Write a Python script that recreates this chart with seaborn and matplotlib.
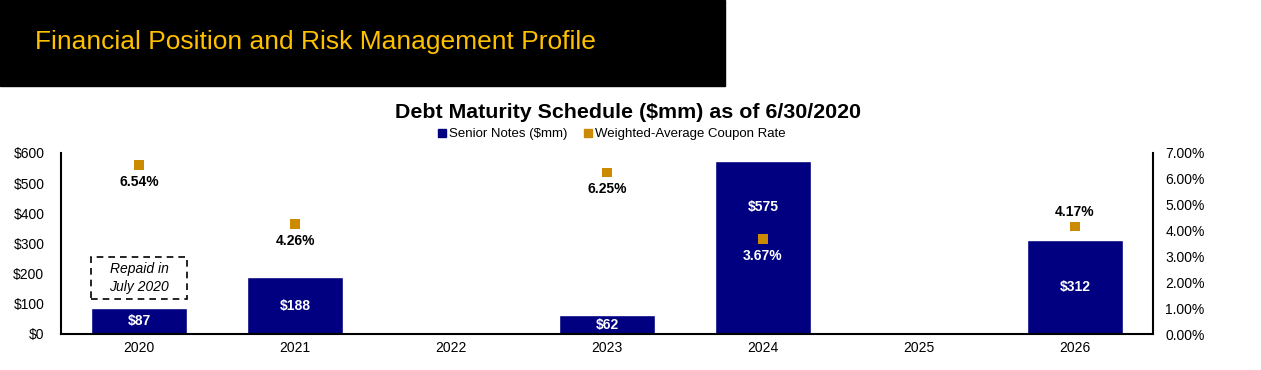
import numpy as np
import pandas as pd
import seaborn as sns
import matplotlib.pyplot as plt
from matplotlib.patches import Rectangle
from matplotlib.lines import Line2D
from matplotlib.ticker import PercentFormatter, FuncFormatter

# datos
years = ['2020', '2021', '2022', '2023', '2024', '2025', '2026']
notes = [87, 188, 0, 62, 575, 0, 312]
coupon = [6.54, 4.26, np.nan, 6.25, 3.67, np.nan, 4.17]

navy = '#000080'
gold = '#CC8A00'

sns.set_theme(style='white')
plt.rcParams['font.family'] = ['Liberation Sans', 'DejaVu Sans']
plt.rcParams['text.color'] = 'black'

df = pd.DataFrame({'year': years, 'notes': notes, 'coupon': coupon})
df['pos'] = np.arange(len(years))

fig = plt.figure(figsize=(12.61, 3.70), dpi=100)
ax = fig.add_axes([61 / 1261, 36 / 370, 1092 / 1261, 181 / 370])

sns.barplot(data=df, x='year', y='notes', color=navy, width=0.62,
            saturation=1, ax=ax)
ax.set_xlim(-0.5, 6.5)
ax.set_ylim(0, 600)
ax.set_yticks(range(0, 601, 100))
ax.yaxis.set_major_formatter(FuncFormatter(lambda v, p: f'${v:.0f}'))
ax.set_xlabel('')
ax.set_ylabel('')
ax.tick_params(axis='both', length=0, labelsize=10, colors='black')
ax.tick_params(axis='y', pad=12)
ax.tick_params(axis='x', pad=5)
for s in ['left', 'bottom']:
    ax.spines[s].set_color('black')
    ax.spines[s].set_linewidth(1.5)
ax.spines['top'].set_visible(False)
ax.spines['right'].set_visible(False)

# etiquetas de las barras (la de 2024 va mas arriba para no pisar el marcador)
lbl_frac = {4: 0.73}
for i, v in enumerate(notes):
    if v > 0:
        ax.text(i, v * lbl_frac.get(i, 0.5), f'${v}', ha='center', va='center',
                color='white', fontsize=10, fontweight='bold')

# caja de "Repaid"
ax.add_patch(Rectangle((-0.31, 116), 0.62, 139, fill=False, ls=(0, (4, 3)),
                       lw=1.2, ec='black', zorder=3))
ax.text(0, 186, 'Repaid in\nJuly 2020', ha='center', va='center',
        fontsize=10, style='italic', linespacing=1.3)

ax2 = ax.twinx()
sub = df.dropna(subset=['coupon'])
sns.scatterplot(x=sub['pos'], y=sub['coupon'] / 100, marker='s', s=45,
                color=gold, edgecolor='none', ax=ax2, zorder=4)
ax2.set_ylim(0, 0.07)
ax2.set_yticks(np.arange(0, 0.0701, 0.01))
ax2.yaxis.set_major_formatter(PercentFormatter(1, decimals=2))
ax2.set_ylabel('')
ax2.set_xlabel('')
ax2.tick_params(axis='y', length=0, labelsize=10, pad=9, colors='black')
ax2.spines['right'].set_color('black')
ax2.spines['right'].set_linewidth(1.5)
for s in ['top', 'left', 'bottom']:
    ax2.spines[s].set_visible(False)
ax.set_xlim(-0.5, 6.5)

# etiquetas de la tasa: abajo del marcador salvo 2026
for _, r in sub.iterrows():
    above = r['pos'] == 6
    col = 'white' if r['pos'] == 4 else 'black'
    ax2.annotate(f"{r['coupon']:.2f}%", (r['pos'], r['coupon'] / 100),
                 xytext=(0, 10 if above else -12), textcoords='offset points',
                 ha='center', va='center', fontsize=10, fontweight='bold',
                 color=col)

# titulo y leyenda
fig.text(628 / 1261, 1 - 113 / 370, 'Debt Maturity Schedule ($mm) as of 6/30/2020',
         ha='center', va='center', fontsize=15.4, fontweight='bold')
handles = [Line2D([], [], ls='', marker='s', ms=6, color=navy),
           Line2D([], [], ls='', marker='s', ms=6, color=gold)]
fig.legend(handles, ['Senior Notes ($mm)', 'Weighted-Average Coupon Rate'],
           loc='center', bbox_to_anchor=(612 / 1261, 1 - 134 / 370), ncol=2,
           frameon=False, fontsize=9.5, handlelength=0.6, handletextpad=0.2,
           columnspacing=1.3, borderpad=0, labelcolor='black')

# cabecera negra
fig.patches.append(Rectangle((0, 1 - 86 / 370), 725 / 1261, 86 / 370,
                             transform=fig.transFigure, color='black',
                             zorder=0))
fig.text(35 / 1261, 1 - 42 / 370, 'Financial Position and Risk Management Profile',
         ha='left', va='center', fontsize=19, color='#FFC000')

fig.savefig('out.png', dpi=100)
